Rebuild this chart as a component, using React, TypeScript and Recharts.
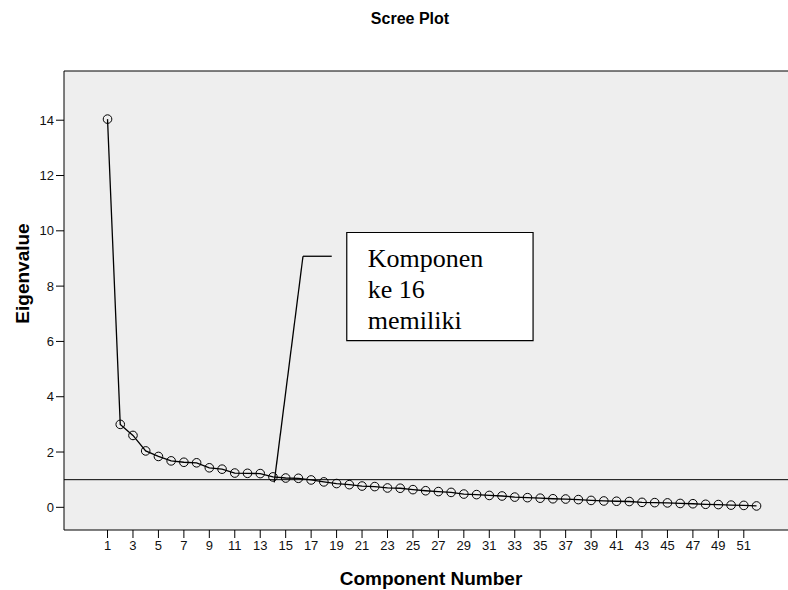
import React from "react";
import {
  ComposedChart,
  Line,
  XAxis,
  YAxis,
  CartesianGrid,
  ReferenceLine,
  ReferenceArea,
} from "recharts";

// component numbers on the x axis
const components = [
  1, 2, 3, 4, 5, 6, 7, 8, 9, 10, 11, 12, 13, 14, 15, 16, 17, 18, 19, 20, 21, 22,
  23, 24, 25, 26, 27, 28, 29, 30, 31, 32, 33, 34, 35, 36, 37, 38, 39, 40, 41, 42,
  43, 44, 45, 46, 47, 48, 49, 50, 51, 52,
];

// eigenvalues
const eigenvalues = [
  14.04, 3.0, 2.6, 2.04, 1.84, 1.68, 1.63, 1.61, 1.43, 1.38, 1.24, 1.23, 1.22,
  1.1, 1.06, 1.05, 0.99, 0.92, 0.86, 0.82, 0.77, 0.75, 0.7, 0.69, 0.64, 0.6,
  0.57, 0.54, 0.48, 0.46, 0.43, 0.41, 0.37, 0.35, 0.33, 0.31, 0.3, 0.28, 0.25,
  0.23, 0.22, 0.21, 0.18, 0.17, 0.16, 0.14, 0.13, 0.11, 0.1, 0.08, 0.07, 0.05,
];

const xTicks = [
  1, 3, 5, 7, 9, 11, 13, 15, 17, 19, 21, 23, 25, 27, 29, 31, 33, 35, 37, 39, 41,
  43, 45, 47, 49, 51,
];
const yTicks = [0, 2, 4, 6, 8, 10, 12, 14];

const annotationLines = ["Komponen", "ke 16", "memiliki"];

const data = components.map((c, i) => ({ component: c, eigenvalue: eigenvalues[i] }));

const X_DOMAIN: [number, number] = [-2.42, 54.63];
const Y_DOMAIN: [number, number] = [-0.82, 15.78];

const sans = "'Liberation Sans', Arial, sans-serif";
const serif = "'Liberation Serif', 'Times New Roman', serif";

export default function App() {
  return (
    <div style={{ position: "relative", width: 788, height: 590, overflow: "hidden", background: "#fff" }}>
      <style>{`body{margin:0}`}</style>
      <div
        style={{
          position: "absolute",
          left: 0,
          top: 10,
          width: 820,
          textAlign: "center",
          fontFamily: sans,
          fontWeight: "bold",
          fontSize: 16,
          color: "#000",
        }}
      >
        Scree Plot
      </div>
      <ComposedChart
        width={788}
        height={590}
        data={data}
        margin={{ top: 71, right: -2, bottom: 0, left: 0 }}
      >
        <CartesianGrid fill="#eeeeee" horizontal={false} vertical={false} />
        <XAxis
          type="number"
          dataKey="component"
          domain={X_DOMAIN}
          ticks={xTicks}
          interval={0}
          allowDataOverflow
          height={60}
          tickSize={8}
          tickMargin={3}
          axisLine={{ stroke: "#000" }}
          tickLine={{ stroke: "#000" }}
          tick={{ fill: "#111", fontSize: 13, fontFamily: sans }}
          label={{
            value: "Component Number",
            content: (props: any) => {
              const vb = props.viewBox || { x: 64, y: 530, width: 724, height: 60 };
              return (
                <text
                  x={vb.x + vb.width / 2 + 4}
                  y={585}
                  textAnchor="middle"
                  fontFamily={sans}
                  fontWeight="bold"
                  fontSize={19}
                  fill="#000"
                >
                  Component Number
                </text>
              );
            },
          }}
        />
        <YAxis
          type="number"
          domain={Y_DOMAIN}
          ticks={yTicks}
          interval={0}
          allowDataOverflow
          width={64}
          tickSize={8}
          tickMargin={2}
          axisLine={{ stroke: "#000" }}
          tickLine={{ stroke: "#000" }}
          tick={{ fill: "#111", fontSize: 13, fontFamily: sans }}
          label={{
            value: "Eigenvalue",
            content: (props: any) => {
              const vb = props.viewBox || { x: 0, y: 71, width: 64, height: 459 };
              const cx = vb.x + 22;
              const cy = vb.y + vb.height / 2 - 27;
              return (
                <text
                  x={cx}
                  y={cy}
                  transform={`rotate(-90 ${cx} ${cy})`}
                  textAnchor="middle"
                  dominantBaseline="central"
                  fontFamily={sans}
                  fontWeight="bold"
                  fontSize={19}
                  fill="#000"
                >
                  Eigenvalue
                </text>
              );
            },
          }}
        />
        <ReferenceLine y={Y_DOMAIN[1]} stroke="#000" strokeWidth={1} />
        <ReferenceLine y={1} stroke="#000" strokeWidth={1} />
        <ReferenceLine
          segment={[
            { x: 18.62, y: 9.08 },
            { x: 16.36, y: 9.08 },
          ]}
          stroke="#000"
          strokeWidth={1.3}
        />
        <ReferenceLine
          segment={[
            { x: 16.36, y: 9.08 },
            { x: 14.1, y: 0.9 },
          ]}
          stroke="#000"
          strokeWidth={1.3}
        />
        <ReferenceArea
          x1={19.8}
          x2={34.44}
          y1={6.03}
          y2={9.94}
          fill="#fff"
          fillOpacity={1}
          stroke="#000"
          strokeWidth={1.2}
          label={{
            content: (props: any) => {
              const vb = props.viewBox;
              if (!vb) return null;
              return (
                <text fontFamily={serif} fontSize={26} fill="#000">
                  {annotationLines.map((t, i) => (
                    <tspan key={t} x={vb.x + 21} y={vb.y + 35 + i * 31}>
                      {t}
                    </tspan>
                  ))}
                </text>
              );
            },
          }}
        />
        <Line
          type="linear"
          dataKey="eigenvalue"
          stroke="#000"
          strokeWidth={1.3}
          dot={{ r: 4.3, stroke: "#000", strokeWidth: 1, fill: "none" }}
          activeDot={false}
          isAnimationActive={false}
        />
      </ComposedChart>
    </div>
  );
}
